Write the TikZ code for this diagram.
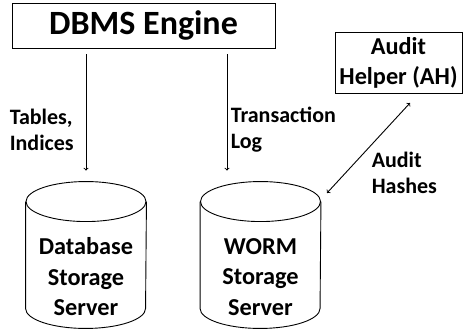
\documentclass[tikz,border=0pt]{standalone}
\usepackage{fontspec}
\setmainfont{Carlito}
\begin{document}
\begin{tikzpicture}
        [x=1pt,y=-1pt,font=\bfseries,line width=0.9pt,
         box/.style={draw,inner sep=0pt},
         store/.style={minimum width=120pt,minimum height=146pt,inner sep=0pt},
         big/.style={font=\bfseries\fontsize{34}{38}\selectfont},
         mid/.style={align=center,font=\bfseries\fontsize{24.3}{30.5}\selectfont},
         small/.style={align=left,font=\bfseries\fontsize{22}{26}\selectfont}]
        \useasboundingbox (0,0) rectangle (466,331);

        \node[box,big,minimum width=263pt,minimum height=45pt] (engine) at (143.5,25.5) {DBMS Engine};
        \node[box,mid,minimum width=127pt,minimum height=61pt] (ah) at (398.5,63) {Audit\\Helper (AH)};

        \node[store] (db) at (86,255) {};
        \node[store] (worm) at (260.5,255) {};
        \foreach \s in {db,worm}
        {\draw ([yshift=-20pt]\s.north) ellipse [x radius=60pt,y radius=20pt];
         \draw ([yshift=-20pt]\s.north west) -- ([yshift=20pt]\s.south west)
           arc [start angle=180,end angle=360,x radius=60pt,y radius=20pt]
           -- ([yshift=-20pt]\s.north east);}
        \node[mid] (dbtext) at (86,277) {Database\\Storage\\Server};
        \node[mid] (wormtext) at (260.5,277) {WORM\\Storage\\Server};

        \draw[->,shorten <=6pt,shorten >=11pt] (engine.south -| db.north) -- (db.north);
        \coordinate (logend) at ([xshift=-33.5pt]worm.north);
        \draw[->,shorten <=6pt,shorten >=11pt] (engine.south -| logend) -- (logend);

        \coordinate (hashtop) at (410,103);
        \coordinate (hashbot) at (327,193);
        \draw[<->] (hashtop) -- (hashbot);

        \node[small,anchor=west] (tables) at (6,130) {Tables,\\Indices};
        \node[small,anchor=west] (log) at (227,130) {Transaction\\Log};
        \node[small,anchor=west] (hashes) at (368,173) {Audit\\Hashes};
      \end{tikzpicture}
\end{document}
